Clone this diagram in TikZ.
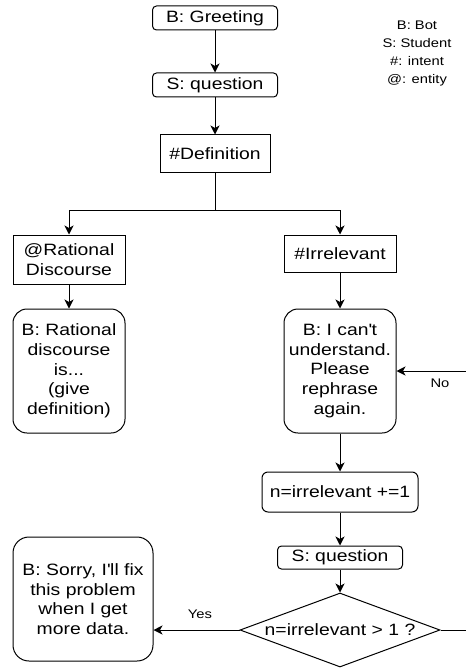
\documentclass[tikz,border=0pt]{standalone}
\usepackage{fontspec}
\setmainfont{Liberation Sans}[FakeStretch=1.18]
\usetikzlibrary{shapes.geometric,arrows.meta}
\tikzset{
  base/.style={draw, line width=1pt, align=center, inner sep=0pt,
    font=\fontsize{16.4}{19.7}\selectfont},
  sbox/.style={base, rectangle},
  rbox/.style={base, rectangle, rounded corners=4pt},
  bigbox/.style={base, rectangle, rounded corners=14pt},
  decbox/.style={base, diamond, minimum width=200pt, minimum height=74pt},
  smalltext/.style={font=\fontsize{12.5}{17.7}\selectfont, align=center, inner sep=0pt},
  arr/.style={line width=1pt, -{Stealth[length=9pt, width=9pt, inset=2.5pt]}},
  ln/.style={line width=1pt},
}
\begin{document}
\begin{tikzpicture}[x=1pt, y=-1pt]
\useasboundingbox (0,0) rectangle (465,668);

\node[rbox, minimum width=125pt, minimum height=24pt] (greet) at (215,18) {B: Greeting};
\node[rbox, minimum width=125pt, minimum height=24pt] (q1) at (215,85) {S: question};
\node[sbox, minimum width=110pt, minimum height=38pt] (def) at (215,154) {\#Definition};
\node[sbox, minimum width=112pt, minimum height=49pt] (rat) at (69,259.5) {@Rational\\Discourse};
\node[sbox, minimum width=112pt, minimum height=37pt] (irr) at (340,253.5) {\#Irrelevant};
\node[bigbox, minimum width=112pt, minimum height=124pt] (ratdef) at (69,371) {B: Rational\\discourse\\is...\\(give\\definition)};
\node[bigbox, minimum width=112pt, minimum height=124pt] (cant) at (340,371) {B: I can\textquotesingle t\\understand.\\Please\\rephrase\\again.};
\node[rbox, rounded corners=6pt, minimum width=156pt, minimum height=40pt] (inc) at (340,492) {n=irrelevant +=1};
\node[rbox, minimum width=125pt, minimum height=23pt] (q2) at (340,557.5) {S: question};
\node[decbox] (dec) at (340,630) {};
\node[font=\fontsize{16.4}{19.7}\selectfont, inner sep=0pt] (dectext) at (dec.center) {n=irrelevant > 1 ?};
\node[bigbox, rounded corners=16pt, minimum width=140pt, minimum height=124pt] (sorry) at (83,599) {B: Sorry, I\textquotesingle ll fix\\this problem\\when I get\\more data.};

\node[smalltext] (legend) at (417,53.5) {B: Bot\\S: Student\\\#: intent\\@: entity};
\node[smalltext] (yes) at (200,614) {Yes};
\node[smalltext] (no) at (440,383) {No};

\coordinate (split) at (215,210);
\coordinate (nr) at (480,630);
\coordinate (nt) at (480,371);

\draw[arr] (greet) -- (q1);
\draw[arr] (q1) -- (def);
\draw[ln] (def) -- (split);
\draw[arr] (split) -| (rat);
\draw[arr] (split) -| (irr);
\draw[arr] (rat) -- (ratdef);
\draw[arr] (irr) -- (cant);
\draw[arr] (cant) -- (inc);
\draw[arr] (inc) -- (q2);
\draw[arr] (q2) -- (dec);
\draw[arr] (dec.west) -- (dec.west -| sorry.east);
\draw[arr] (dec.east) -- (nr) -- (nt) -- (cant.east);
\end{tikzpicture}
\end{document}
